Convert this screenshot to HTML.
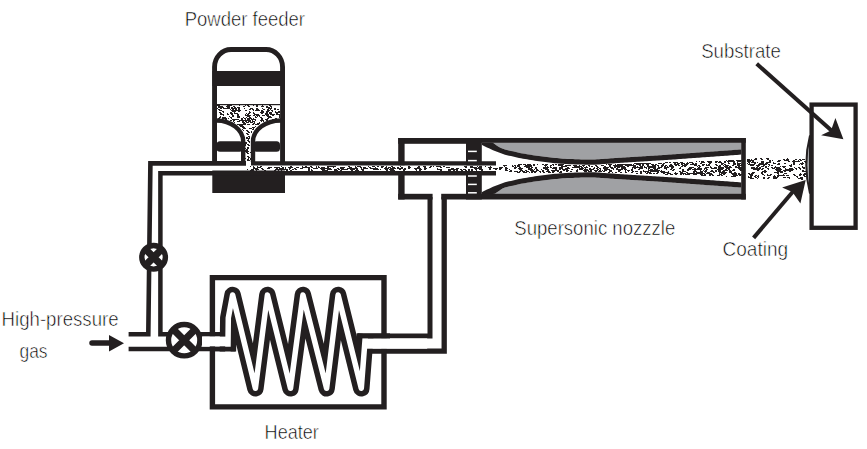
<!DOCTYPE html>
<html><head><meta charset="utf-8"><style>
html,body{margin:0;padding:0;background:#fff;width:867px;height:449px;overflow:hidden}
svg{display:block}
text{font-family:"Liberation Sans",sans-serif;fill:#000;stroke:#fff;stroke-width:0.6}
</style></head><body>
<svg width="867" height="449" viewBox="0 0 867 449">
<rect width="867" height="449" fill="#fff"/>
<g fill="#231f20"><path shape-rendering="crispEdges" d="M217 105h3v1h-3zM227 105h5v1h-5zM239 105h1v1h-1zM245 105h1v1h-1zM247 105h2v1h-2zM253 105h1v1h-1zM256 105h2v1h-2zM262 105h1v1h-1zM269 105h2v1h-2zM218 106h5v1h-5zM226 106h4v1h-4zM233 106h2v1h-2zM243 106h2v1h-2zM248 106h2v1h-2zM256 106h2v1h-2zM261 106h3v1h-3zM266 106h2v1h-2zM270 106h2v1h-2zM218 107h6v1h-6zM227 107h3v1h-3zM231 107h2v1h-2zM234 107h2v1h-2zM237 107h3v1h-3zM266 107h4v1h-4zM271 107h1v1h-1zM217 108h1v1h-1zM220 108h2v1h-2zM223 108h7v1h-7zM231 108h6v1h-6zM238 108h2v1h-2zM244 108h1v1h-1zM250 108h3v1h-3zM256 108h2v1h-2zM262 108h1v1h-1zM268 108h4v1h-4zM274 108h2v1h-2zM218 109h2v1h-2zM230 109h1v1h-1zM232 109h2v1h-2zM235 109h2v1h-2zM238 109h2v1h-2zM249 109h2v1h-2zM252 109h2v1h-2zM256 109h3v1h-3zM263 109h2v1h-2zM267 109h2v1h-2zM270 109h1v1h-1zM274 109h2v1h-2zM277 109h2v1h-2zM219 110h3v1h-3zM231 110h10v1h-10zM245 110h2v1h-2zM253 110h1v1h-1zM255 110h5v1h-5zM261 110h2v1h-2zM267 110h3v1h-3zM271 110h2v1h-2zM222 111h2v1h-2zM232 111h4v1h-4zM238 111h2v1h-2zM249 111h1v1h-1zM261 111h3v1h-3zM266 111h3v1h-3zM272 111h1v1h-1zM275 111h1v1h-1zM278 111h2v1h-2zM219 112h2v1h-2zM223 112h1v1h-1zM230 112h2v1h-2zM234 112h1v1h-1zM249 112h2v1h-2zM253 112h1v1h-1zM260 112h4v1h-4zM266 112h2v1h-2zM269 112h3v1h-3zM275 112h5v1h-5zM220 113h2v1h-2zM227 113h1v1h-1zM230 113h3v1h-3zM234 113h4v1h-4zM246 113h1v1h-1zM248 113h2v1h-2zM253 113h2v1h-2zM261 113h2v1h-2zM265 113h3v1h-3zM269 113h3v1h-3zM276 113h2v1h-2zM220 114h4v1h-4zM227 114h2v1h-2zM231 114h2v1h-2zM237 114h2v1h-2zM245 114h1v1h-1zM247 114h2v1h-2zM254 114h5v1h-5zM265 114h4v1h-4zM270 114h5v1h-5zM276 114h4v1h-4zM223 115h1v1h-1zM232 115h2v1h-2zM237 115h2v1h-2zM245 115h6v1h-6zM253 115h2v1h-2zM256 115h4v1h-4zM262 115h3v1h-3zM266 115h3v1h-3zM272 115h2v1h-2zM279 115h1v1h-1zM220 116h1v1h-1zM229 116h1v1h-1zM232 116h2v1h-2zM237 116h3v1h-3zM247 116h3v1h-3zM255 116h1v1h-1zM257 116h1v1h-1zM259 116h1v1h-1zM267 116h4v1h-4zM279 116h1v1h-1zM219 117h2v1h-2zM222 117h4v1h-4zM230 117h2v1h-2zM237 117h3v1h-3zM243 117h1v1h-1zM246 117h1v1h-1zM249 117h2v1h-2zM255 117h2v1h-2zM260 117h2v1h-2zM268 117h4v1h-4zM279 117h1v1h-1zM218 118h2v1h-2zM222 118h5v1h-5zM228 118h1v1h-1zM231 118h1v1h-1zM241 118h2v1h-2zM244 118h2v1h-2zM247 118h5v1h-5zM253 118h1v1h-1zM261 118h2v1h-2zM267 118h2v1h-2zM275 118h2v1h-2zM217 119h2v1h-2zM225 119h2v1h-2zM232 119h7v1h-7zM241 119h2v1h-2zM245 119h1v1h-1zM247 119h3v1h-3zM251 119h5v1h-5zM261 119h2v1h-2zM265 119h3v1h-3zM272 119h2v1h-2zM275 119h4v1h-4zM218 120h2v1h-2zM225 120h2v1h-2zM230 120h2v1h-2zM233 120h2v1h-2zM239 120h12v1h-12zM252 120h1v1h-1zM255 120h1v1h-1zM260 120h4v1h-4zM266 120h2v1h-2zM272 120h2v1h-2zM278 120h2v1h-2zM233 121h1v1h-1zM237 121h3v1h-3zM242 121h2v1h-2zM245 121h2v1h-2zM248 121h3v1h-3zM252 121h3v1h-3zM261 121h1v1h-1zM263 121h1v1h-1zM234 122h1v1h-1zM242 122h3v1h-3zM246 122h3v1h-3zM250 122h3v1h-3zM254 122h1v1h-1zM259 122h1v1h-1zM243 123h3v1h-3zM253 123h2v1h-2zM257 123h3v1h-3zM237 124h9v1h-9zM247 124h3v1h-3zM252 124h2v1h-2zM255 124h4v1h-4zM239 125h4v1h-4zM240 126h4v1h-4zM255 126h1v1h-1zM242 127h3v1h-3zM252 127h3v1h-3zM243 128h3v1h-3zM249 128h3v1h-3zM253 128h1v1h-1zM242 129h1v1h-1zM252 129h2v1h-2zM243 130h1v1h-1zM246 130h2v1h-2zM247 131h2v1h-2zM251 131h1v1h-1zM248 132h2v1h-2zM251 132h1v1h-1zM246 133h2v1h-2zM247 134h2v1h-2zM248 136h2v1h-2zM246 137h2v1h-2zM249 137h1v1h-1zM246 138h4v1h-4zM248 139h1v1h-1zM247 140h2v1h-2zM248 141h2v1h-2zM245 142h2v1h-2zM249 142h1v1h-1zM245 143h2v1h-2zM245 144h1v1h-1zM247 144h2v1h-2zM245 145h1v1h-1zM248 145h2v1h-2zM247 147h2v1h-2zM245 148h1v1h-1zM247 148h2v1h-2zM246 149h2v1h-2zM245 150h3v1h-3zM245 151h4v1h-4zM246 152h2v1h-2zM250 152h1v1h-1zM247 153h2v1h-2zM247 156h2v1h-2zM248 157h2v1h-2zM245 158h1v1h-1zM248 158h1v1h-1zM250 158h1v1h-1zM247 159h2v1h-2zM250 159h1v1h-1zM247 160h3v1h-3z"/></g><rect x="217" y="104" width="63" height="1.2" fill="#231f20"/><g fill="#231f20"><path shape-rendering="crispEdges" d="M250 166h1v1h-1zM253 166h1v1h-1zM257 166h1v1h-1zM260 166h2v1h-2zM281 166h1v1h-1zM290 166h2v1h-2zM302 166h1v1h-1zM305 166h2v1h-2zM310 166h2v1h-2zM316 166h1v1h-1zM318 166h1v1h-1zM327 166h9v1h-9zM348 166h2v1h-2zM355 166h1v1h-1zM357 166h4v1h-4zM368 166h1v1h-1zM372 166h3v1h-3zM377 166h2v1h-2zM381 166h3v1h-3zM386 166h1v1h-1zM391 166h2v1h-2zM400 166h1v1h-1zM408 166h2v1h-2zM418 166h2v1h-2zM423 166h3v1h-3zM430 166h2v1h-2zM433 166h1v1h-1zM436 166h5v1h-5zM443 166h2v1h-2zM464 166h3v1h-3zM470 166h3v1h-3zM477 166h1v1h-1zM479 166h3v1h-3zM485 166h1v1h-1zM490 166h1v1h-1zM253 167h2v1h-2zM257 167h4v1h-4zM268 167h4v1h-4zM274 167h6v1h-6zM282 167h2v1h-2zM285 167h1v1h-1zM288 167h5v1h-5zM296 167h3v1h-3zM302 167h8v1h-8zM311 167h2v1h-2zM316 167h1v1h-1zM318 167h2v1h-2zM321 167h4v1h-4zM327 167h2v1h-2zM333 167h1v1h-1zM340 167h5v1h-5zM349 167h3v1h-3zM355 167h2v1h-2zM360 167h2v1h-2zM363 167h3v1h-3zM369 167h2v1h-2zM375 167h1v1h-1zM381 167h2v1h-2zM385 167h2v1h-2zM388 167h3v1h-3zM392 167h3v1h-3zM397 167h2v1h-2zM401 167h2v1h-2zM408 167h3v1h-3zM417 167h3v1h-3zM424 167h2v1h-2zM429 167h2v1h-2zM440 167h2v1h-2zM446 167h4v1h-4zM465 167h2v1h-2zM470 167h7v1h-7zM478 167h4v1h-4zM488 167h4v1h-4zM253 168h5v1h-5zM261 168h2v1h-2zM267 168h3v1h-3zM276 168h2v1h-2zM279 168h5v1h-5zM285 168h1v1h-1zM289 168h2v1h-2zM294 168h2v1h-2zM300 168h3v1h-3zM308 168h2v1h-2zM313 168h5v1h-5zM320 168h11v1h-11zM337 168h2v1h-2zM340 168h4v1h-4zM347 168h11v1h-11zM361 168h1v1h-1zM363 168h5v1h-5zM370 168h8v1h-8zM384 168h5v1h-5zM390 168h6v1h-6zM397 168h6v1h-6zM404 168h2v1h-2zM408 168h2v1h-2zM414 168h7v1h-7zM424 168h3v1h-3zM437 168h1v1h-1zM451 168h3v1h-3zM456 168h3v1h-3zM474 168h8v1h-8zM489 168h2v1h-2zM493 168h5v1h-5zM247 169h1v1h-1zM251 169h3v1h-3zM255 169h4v1h-4zM262 169h2v1h-2zM275 169h13v1h-13zM289 169h1v1h-1zM292 169h2v1h-2zM295 169h2v1h-2zM308 169h2v1h-2zM311 169h1v1h-1zM321 169h4v1h-4zM327 169h5v1h-5zM334 169h3v1h-3zM338 169h2v1h-2zM341 169h7v1h-7zM350 169h5v1h-5zM356 169h2v1h-2zM361 169h3v1h-3zM373 169h6v1h-6zM380 169h1v1h-1zM385 169h3v1h-3zM389 169h5v1h-5zM399 169h2v1h-2zM403 169h3v1h-3zM415 169h2v1h-2zM419 169h3v1h-3zM424 169h2v1h-2zM437 169h5v1h-5zM448 169h10v1h-10zM460 169h2v1h-2zM463 169h3v1h-3zM468 169h2v1h-2zM471 169h2v1h-2zM475 169h2v1h-2zM479 169h4v1h-4zM489 169h2v1h-2zM495 169h2v1h-2zM250 170h4v1h-4zM256 170h1v1h-1zM264 170h2v1h-2zM274 170h2v1h-2zM278 170h1v1h-1zM281 170h1v1h-1zM286 170h2v1h-2zM290 170h2v1h-2zM308 170h2v1h-2zM311 170h2v1h-2zM322 170h6v1h-6zM334 170h4v1h-4zM340 170h2v1h-2zM351 170h2v1h-2zM355 170h4v1h-4zM362 170h2v1h-2zM386 170h2v1h-2zM390 170h5v1h-5zM403 170h2v1h-2zM416 170h1v1h-1zM419 170h2v1h-2zM440 170h2v1h-2zM448 170h3v1h-3zM453 170h2v1h-2zM456 170h2v1h-2zM461 170h2v1h-2zM465 170h2v1h-2zM468 170h2v1h-2zM471 170h2v1h-2zM476 170h1v1h-1zM481 170h2v1h-2zM265 171h1v1h-1zM291 171h1v1h-1zM356 171h1v1h-1zM358 171h1v1h-1z"/></g><path d="M214.55 162 V67 A16.5 17.5 0 0 1 231.05 49.55 H266.05 A16.5 17.5 0 0 1 282.55 67 V162" fill="none" stroke="#231f20" stroke-width="4.9"/><path d="M212.5 71 H285 V86 H212.5 Z" fill="#231f20"/><path d="M216 120.5 A26.8 21 0 0 1 243.2 141.5 V162" fill="none" stroke="#231f20" stroke-width="4.4"/><path d="M281 120.5 A27.8 21 0 0 0 253 141.5 V162" fill="none" stroke="#231f20" stroke-width="4.4"/><rect x="216.5" y="141.3" width="26.5" height="10.4" rx="3.5" fill="#231f20"/><rect x="253" y="141.3" width="27" height="10.4" rx="3.5" fill="#231f20"/><rect x="212.3" y="170.5" width="72.7" height="22.5" fill="#231f20"/><path d="M128.6 334.2 H148.3 L150.4 163.4 H246" fill="none" stroke="#231f20" stroke-width="4.6"/><path d="M251 163.3 H496" fill="none" stroke="#231f20" stroke-width="4.2"/><path d="M496 173.2 H160.4 V334.3 H224.5" fill="none" stroke="#231f20" stroke-width="4.5"/><path d="M128.6 349 H235.3" fill="none" stroke="#231f20" stroke-width="4.5"/><path d="M356.5 335.9 H430 V197" fill="none" stroke="#231f20" stroke-width="5"/><path d="M370.5 351.2 H444.2 V197" fill="none" stroke="#231f20" stroke-width="5.3"/><circle cx="153.6" cy="257.3" r="11.8" fill="#fff" stroke="#231f20" stroke-width="5.4"/><path d="M144.75 248.45000000000002 L162.45 266.15000000000003 M162.45 248.45000000000002 L144.75 266.15000000000003" stroke="#231f20" stroke-width="7.2"/><circle cx="184.2" cy="340.2" r="15.7" fill="#fff" stroke="#231f20" stroke-width="5.4"/><path d="M172.42499999999998 328.425 L195.975 351.97499999999997 M195.975 328.425 L172.42499999999998 351.97499999999997" stroke="#231f20" stroke-width="7.2"/><path d="M212.4 336.6 V277.6 H384 V338.4 M384 348.5 V406.9 H212.4 V345.8" fill="none" stroke="#231f20" stroke-width="5.4"/><path d="M227.9 351.5 L228.3 318 L232.6 295 L255.4 388.3 L267.4 295 L290.5 388.3 L302.9 295 L326.6 388.3 L338.1 295 L361.3 388.3 L365.5 334" fill="none" stroke="#231f20" stroke-width="16.5" stroke-linejoin="round"/><path d="M227.9 351.5 L228.3 318 L232.6 295 L255.4 388.3 L267.4 295 L290.5 388.3 L302.9 295 L326.6 388.3 L338.1 295 L361.3 388.3 L365.5 334" fill="none" stroke="#fff" stroke-width="5.5" stroke-linejoin="round"/><rect x="202" y="336.6" width="26" height="9.8" fill="#fff"/><path d="M210 349 H235.3" stroke="#231f20" stroke-width="4.5"/><rect x="364" y="338.4" width="63.2" height="10.3" fill="#fff"/><path d="M358 335.9 H390" stroke="#231f20" stroke-width="5"/><polygon points="481.8,142.5 741.3,142.5 741.3,149.40 741.0,149.42 739.0,149.57 737.0,149.71 735.0,149.85 733.0,150.00 731.0,150.14 729.0,150.29 727.0,150.43 725.0,150.57 723.0,150.72 721.0,150.86 719.0,151.01 717.0,151.15 715.0,151.30 713.0,151.44 711.0,151.58 709.0,151.73 707.0,151.87 705.0,152.02 703.0,152.16 701.0,152.30 699.0,152.45 697.0,152.59 695.0,152.74 693.0,152.88 691.0,153.03 689.0,153.17 687.0,153.31 685.0,153.46 683.0,153.60 681.0,153.75 679.0,153.89 677.0,154.03 675.0,154.18 673.0,154.32 671.0,154.47 669.0,154.61 667.0,154.76 665.0,154.90 663.0,155.02 661.0,155.15 659.0,155.27 657.0,155.40 655.0,155.52 653.0,155.65 651.0,155.77 649.0,155.90 647.0,156.02 645.0,156.14 643.0,156.27 641.0,156.39 639.0,156.52 637.0,156.64 635.0,156.77 633.0,156.89 631.0,157.02 629.0,157.14 627.0,157.26 625.0,157.39 623.0,157.51 621.0,157.64 619.0,157.77 617.0,157.92 615.0,158.06 613.0,158.20 611.0,158.35 609.0,158.49 607.0,158.64 605.0,158.78 603.0,158.92 601.0,159.07 599.0,159.21 597.0,159.36 595.0,159.50 593.0,159.49 591.0,159.47 589.0,159.46 587.0,159.45 585.0,159.43 583.0,159.42 581.0,159.41 579.0,159.36 577.0,159.28 575.0,159.20 573.0,159.12 571.0,159.04 569.0,158.96 567.0,158.88 565.0,158.80 563.0,158.63 561.0,158.45 559.0,158.28 557.0,158.11 555.0,157.93 553.0,157.76 551.0,157.59 549.0,157.37 547.0,157.10 545.0,156.83 543.0,156.57 541.0,156.30 539.0,156.03 537.0,155.77 535.0,155.50 533.0,155.17 531.0,154.83 529.0,154.50 527.0,154.17 525.0,153.83 523.0,153.50 521.0,153.17 519.0,152.77 517.0,152.30 515.0,151.83 513.0,151.37 511.0,150.90 509.0,150.43 507.0,149.97 505.0,149.50 503.0,148.78 501.0,148.06 499.0,147.01 497.0,145.63 495.0,144.25 493.0,142.68 491.0,142.50 489.0,142.50 487.0,142.50 485.0,142.50 483.0,142.50 481.8,142.50" fill="#a0a1a4"/><polygon points="481.8,194.10 483.0,194.10 485.0,194.10 487.0,194.10 489.0,194.10 491.0,194.10 493.0,194.10 495.0,193.74 497.0,192.36 499.0,190.98 501.0,189.60 503.0,188.22 505.0,187.50 507.0,187.03 509.0,186.57 511.0,186.10 513.0,185.63 515.0,185.17 517.0,184.70 519.0,184.23 521.0,183.83 523.0,183.50 525.0,183.17 527.0,182.83 529.0,182.50 531.0,182.17 533.0,181.83 535.0,181.50 537.0,181.23 539.0,180.97 541.0,180.70 543.0,180.43 545.0,180.17 547.0,179.90 549.0,179.63 551.0,179.41 553.0,179.24 555.0,179.07 557.0,178.89 559.0,178.72 561.0,178.55 563.0,178.37 565.0,178.20 567.0,178.12 569.0,178.04 571.0,177.96 573.0,177.88 575.0,177.80 577.0,177.72 579.0,177.64 581.0,177.59 583.0,177.58 585.0,177.57 587.0,177.55 589.0,177.54 591.0,177.53 593.0,177.51 595.0,177.50 597.0,177.64 599.0,177.79 601.0,177.93 603.0,178.08 605.0,178.22 607.0,178.36 609.0,178.51 611.0,178.65 613.0,178.80 615.0,178.94 617.0,179.08 619.0,179.23 621.0,179.36 623.0,179.49 625.0,179.61 627.0,179.74 629.0,179.86 631.0,179.98 633.0,180.11 635.0,180.23 637.0,180.36 639.0,180.48 641.0,180.61 643.0,180.73 645.0,180.86 647.0,180.98 649.0,181.10 651.0,181.23 653.0,181.35 655.0,181.48 657.0,181.60 659.0,181.73 661.0,181.85 663.0,181.98 665.0,182.10 667.0,182.24 669.0,182.39 671.0,182.53 673.0,182.68 675.0,182.82 677.0,182.97 679.0,183.11 681.0,183.25 683.0,183.40 685.0,183.54 687.0,183.69 689.0,183.83 691.0,183.97 693.0,184.12 695.0,184.26 697.0,184.41 699.0,184.55 701.0,184.70 703.0,184.84 705.0,184.98 707.0,185.13 709.0,185.27 711.0,185.42 713.0,185.56 715.0,185.70 717.0,185.85 719.0,185.99 721.0,186.14 723.0,186.28 725.0,186.43 727.0,186.57 729.0,186.71 731.0,186.86 733.0,187.00 735.0,187.15 737.0,187.29 739.0,187.43 741.0,187.58 741.3,187.60 741.3,194.10000000000002 481.8,194.10000000000002" fill="#a0a1a4"/><polygon points="481.8,142.50 483.0,142.50 485.0,142.50 487.0,142.50 489.0,142.50 491.0,142.50 493.0,142.68 495.0,144.25 497.0,145.63 499.0,147.01 501.0,148.06 503.0,148.78 505.0,149.50 507.0,149.97 509.0,150.43 511.0,150.90 513.0,151.37 515.0,151.83 517.0,152.30 519.0,152.77 521.0,153.17 523.0,153.50 525.0,153.83 527.0,154.17 529.0,154.50 531.0,154.83 533.0,155.17 535.0,155.50 537.0,155.77 539.0,156.03 541.0,156.30 543.0,156.57 545.0,156.83 547.0,157.10 549.0,157.37 551.0,157.59 553.0,157.76 555.0,157.93 557.0,158.11 559.0,158.28 561.0,158.45 563.0,158.63 565.0,158.80 567.0,158.88 569.0,158.96 571.0,159.04 573.0,159.12 575.0,159.20 577.0,159.28 579.0,159.36 581.0,159.41 583.0,159.42 585.0,159.43 587.0,159.45 589.0,159.46 591.0,159.47 593.0,159.49 595.0,159.50 597.0,159.36 599.0,159.21 601.0,159.07 603.0,158.92 605.0,158.78 607.0,158.64 609.0,158.49 611.0,158.35 613.0,158.20 615.0,158.06 617.0,157.92 619.0,157.77 621.0,157.64 623.0,157.51 625.0,157.39 627.0,157.26 629.0,157.14 631.0,157.02 633.0,156.89 635.0,156.77 637.0,156.64 639.0,156.52 641.0,156.39 643.0,156.27 645.0,156.14 647.0,156.02 649.0,155.90 651.0,155.77 653.0,155.65 655.0,155.52 657.0,155.40 659.0,155.27 661.0,155.15 663.0,155.02 665.0,154.90 667.0,154.76 669.0,154.61 671.0,154.47 673.0,154.32 675.0,154.18 677.0,154.03 679.0,153.89 681.0,153.75 683.0,153.60 685.0,153.46 687.0,153.31 689.0,153.17 691.0,153.03 693.0,152.88 695.0,152.74 697.0,152.59 699.0,152.45 701.0,152.30 703.0,152.16 705.0,152.02 707.0,151.87 709.0,151.73 711.0,151.58 713.0,151.44 715.0,151.30 717.0,151.15 719.0,151.01 721.0,150.86 723.0,150.72 725.0,150.57 727.0,150.43 729.0,150.29 731.0,150.14 733.0,150.00 735.0,149.85 737.0,149.71 739.0,149.57 741.0,149.42 741.3,149.40 741.3,154.60 741.0,154.62 739.0,154.77 737.0,154.91 735.0,155.05 733.0,155.20 731.0,155.34 729.0,155.49 727.0,155.63 725.0,155.77 723.0,155.92 721.0,156.06 719.0,156.21 717.0,156.35 715.0,156.50 713.0,156.64 711.0,156.78 709.0,156.93 707.0,157.07 705.0,157.22 703.0,157.36 701.0,157.50 699.0,157.65 697.0,157.79 695.0,157.94 693.0,158.08 691.0,158.23 689.0,158.37 687.0,158.51 685.0,158.66 683.0,158.80 681.0,158.95 679.0,159.09 677.0,159.23 675.0,159.38 673.0,159.52 671.0,159.67 669.0,159.81 667.0,159.96 665.0,160.10 663.0,160.22 661.0,160.35 659.0,160.47 657.0,160.60 655.0,160.72 653.0,160.85 651.0,160.97 649.0,161.10 647.0,161.22 645.0,161.34 643.0,161.47 641.0,161.59 639.0,161.72 637.0,161.84 635.0,161.97 633.0,162.09 631.0,162.22 629.0,162.34 627.0,162.46 625.0,162.59 623.0,162.71 621.0,162.84 619.0,162.97 617.0,163.12 615.0,163.26 613.0,163.40 611.0,163.55 609.0,163.69 607.0,163.84 605.0,163.98 603.0,164.12 601.0,164.27 599.0,164.41 597.0,164.56 595.0,164.70 593.0,164.69 591.0,164.67 589.0,164.66 587.0,164.65 585.0,164.63 583.0,164.62 581.0,164.61 579.0,164.56 577.0,164.48 575.0,164.40 573.0,164.32 571.0,164.24 569.0,164.16 567.0,164.08 565.0,164.00 563.0,163.83 561.0,163.65 559.0,163.48 557.0,163.31 555.0,163.13 553.0,162.96 551.0,162.79 549.0,162.57 547.0,162.30 545.0,162.03 543.0,161.77 541.0,161.50 539.0,161.23 537.0,160.97 535.0,160.70 533.0,160.37 531.0,160.03 529.0,159.70 527.0,159.37 525.0,159.03 523.0,158.70 521.0,158.37 519.0,157.97 517.0,157.50 515.0,157.03 513.0,156.57 511.0,156.10 509.0,155.63 507.0,155.17 505.0,154.70 503.0,153.98 501.0,153.26 499.0,152.54 497.0,151.82 495.0,151.10 493.0,150.19 491.0,149.27 489.0,148.36 487.0,147.40 485.0,146.40 483.0,145.40 481.8,144.80" fill="#231f20"/><polygon points="481.8,192.20 483.0,191.60 485.0,190.60 487.0,189.60 489.0,188.64 491.0,187.73 493.0,186.81 495.0,185.90 497.0,185.18 499.0,184.46 501.0,183.74 503.0,183.02 505.0,182.30 507.0,181.83 509.0,181.37 511.0,180.90 513.0,180.43 515.0,179.97 517.0,179.50 519.0,179.03 521.0,178.63 523.0,178.30 525.0,177.97 527.0,177.63 529.0,177.30 531.0,176.97 533.0,176.63 535.0,176.30 537.0,176.03 539.0,175.77 541.0,175.50 543.0,175.23 545.0,174.97 547.0,174.70 549.0,174.43 551.0,174.21 553.0,174.04 555.0,173.87 557.0,173.69 559.0,173.52 561.0,173.35 563.0,173.17 565.0,173.00 567.0,172.92 569.0,172.84 571.0,172.76 573.0,172.68 575.0,172.60 577.0,172.52 579.0,172.44 581.0,172.39 583.0,172.38 585.0,172.37 587.0,172.35 589.0,172.34 591.0,172.33 593.0,172.31 595.0,172.30 597.0,172.44 599.0,172.59 601.0,172.73 603.0,172.88 605.0,173.02 607.0,173.16 609.0,173.31 611.0,173.45 613.0,173.60 615.0,173.74 617.0,173.88 619.0,174.03 621.0,174.16 623.0,174.29 625.0,174.41 627.0,174.54 629.0,174.66 631.0,174.78 633.0,174.91 635.0,175.03 637.0,175.16 639.0,175.28 641.0,175.41 643.0,175.53 645.0,175.66 647.0,175.78 649.0,175.90 651.0,176.03 653.0,176.15 655.0,176.28 657.0,176.40 659.0,176.53 661.0,176.65 663.0,176.78 665.0,176.90 667.0,177.04 669.0,177.19 671.0,177.33 673.0,177.48 675.0,177.62 677.0,177.77 679.0,177.91 681.0,178.05 683.0,178.20 685.0,178.34 687.0,178.49 689.0,178.63 691.0,178.77 693.0,178.92 695.0,179.06 697.0,179.21 699.0,179.35 701.0,179.50 703.0,179.64 705.0,179.78 707.0,179.93 709.0,180.07 711.0,180.22 713.0,180.36 715.0,180.50 717.0,180.65 719.0,180.79 721.0,180.94 723.0,181.08 725.0,181.23 727.0,181.37 729.0,181.51 731.0,181.66 733.0,181.80 735.0,181.95 737.0,182.09 739.0,182.23 741.0,182.38 741.3,182.40 741.3,187.60 741.0,187.58 739.0,187.43 737.0,187.29 735.0,187.15 733.0,187.00 731.0,186.86 729.0,186.71 727.0,186.57 725.0,186.43 723.0,186.28 721.0,186.14 719.0,185.99 717.0,185.85 715.0,185.70 713.0,185.56 711.0,185.42 709.0,185.27 707.0,185.13 705.0,184.98 703.0,184.84 701.0,184.70 699.0,184.55 697.0,184.41 695.0,184.26 693.0,184.12 691.0,183.97 689.0,183.83 687.0,183.69 685.0,183.54 683.0,183.40 681.0,183.25 679.0,183.11 677.0,182.97 675.0,182.82 673.0,182.68 671.0,182.53 669.0,182.39 667.0,182.24 665.0,182.10 663.0,181.98 661.0,181.85 659.0,181.73 657.0,181.60 655.0,181.48 653.0,181.35 651.0,181.23 649.0,181.10 647.0,180.98 645.0,180.86 643.0,180.73 641.0,180.61 639.0,180.48 637.0,180.36 635.0,180.23 633.0,180.11 631.0,179.98 629.0,179.86 627.0,179.74 625.0,179.61 623.0,179.49 621.0,179.36 619.0,179.23 617.0,179.08 615.0,178.94 613.0,178.80 611.0,178.65 609.0,178.51 607.0,178.36 605.0,178.22 603.0,178.08 601.0,177.93 599.0,177.79 597.0,177.64 595.0,177.50 593.0,177.51 591.0,177.53 589.0,177.54 587.0,177.55 585.0,177.57 583.0,177.58 581.0,177.59 579.0,177.64 577.0,177.72 575.0,177.80 573.0,177.88 571.0,177.96 569.0,178.04 567.0,178.12 565.0,178.20 563.0,178.37 561.0,178.55 559.0,178.72 557.0,178.89 555.0,179.07 553.0,179.24 551.0,179.41 549.0,179.63 547.0,179.90 545.0,180.17 543.0,180.43 541.0,180.70 539.0,180.97 537.0,181.23 535.0,181.50 533.0,181.83 531.0,182.17 529.0,182.50 527.0,182.83 525.0,183.17 523.0,183.50 521.0,183.83 519.0,184.23 517.0,184.70 515.0,185.17 513.0,185.63 511.0,186.10 509.0,186.57 507.0,187.03 505.0,187.50 503.0,188.22 501.0,189.60 499.0,190.98 497.0,192.36 495.0,193.74 493.0,194.10 491.0,194.10 489.0,194.10 487.0,194.10 485.0,194.10 483.0,194.10 481.8,194.10" fill="#231f20"/><g fill="#231f20"><path shape-rendering="crispEdges" d="M726 160h1v1h-1zM728 160h6v1h-6zM736 160h7v1h-7zM696 161h1v1h-1zM699 161h1v1h-1zM701 161h3v1h-3zM707 161h5v1h-5zM715 161h3v1h-3zM719 161h2v1h-2zM724 161h2v1h-2zM727 161h8v1h-8zM737 161h4v1h-4zM742 161h1v1h-1zM665 162h3v1h-3zM669 162h2v1h-2zM673 162h5v1h-5zM680 162h3v1h-3zM687 162h1v1h-1zM689 162h4v1h-4zM701 162h4v1h-4zM708 162h4v1h-4zM715 162h2v1h-2zM718 162h4v1h-4zM724 162h2v1h-2zM728 162h1v1h-1zM733 162h2v1h-2zM737 162h1v1h-1zM634 163h17v1h-17zM658 163h4v1h-4zM663 163h2v1h-2zM674 163h2v1h-2zM677 163h3v1h-3zM681 163h4v1h-4zM686 163h3v1h-3zM692 163h2v1h-2zM695 163h2v1h-2zM700 163h2v1h-2zM709 163h2v1h-2zM721 163h3v1h-3zM728 163h2v1h-2zM733 163h3v1h-3zM737 163h4v1h-4zM518 164h4v1h-4zM523 164h3v1h-3zM527 164h4v1h-4zM533 164h2v1h-2zM537 164h1v1h-1zM542 164h2v1h-2zM545 164h3v1h-3zM552 164h2v1h-2zM555 164h2v1h-2zM558 164h6v1h-6zM606 164h1v1h-1zM608 164h4v1h-4zM615 164h1v1h-1zM617 164h15v1h-15zM633 164h1v1h-1zM636 164h5v1h-5zM642 164h2v1h-2zM646 164h3v1h-3zM651 164h3v1h-3zM655 164h2v1h-2zM662 164h2v1h-2zM670 164h2v1h-2zM674 164h5v1h-5zM681 164h2v1h-2zM684 164h4v1h-4zM690 164h7v1h-7zM702 164h3v1h-3zM706 164h1v1h-1zM708 164h2v1h-2zM715 164h2v1h-2zM721 164h2v1h-2zM724 164h2v1h-2zM733 164h3v1h-3zM737 164h3v1h-3zM741 164h2v1h-2zM503 165h4v1h-4zM512 165h1v1h-1zM514 165h2v1h-2zM517 165h3v1h-3zM525 165h7v1h-7zM533 165h2v1h-2zM544 165h3v1h-3zM550 165h2v1h-2zM553 165h1v1h-1zM558 165h5v1h-5zM565 165h6v1h-6zM573 165h4v1h-4zM579 165h1v1h-1zM582 165h3v1h-3zM588 165h2v1h-2zM595 165h2v1h-2zM601 165h3v1h-3zM609 165h2v1h-2zM613 165h10v1h-10zM625 165h11v1h-11zM639 165h2v1h-2zM642 165h2v1h-2zM647 165h2v1h-2zM652 165h4v1h-4zM657 165h2v1h-2zM661 165h3v1h-3zM665 165h2v1h-2zM669 165h4v1h-4zM675 165h2v1h-2zM678 165h2v1h-2zM682 165h5v1h-5zM694 165h3v1h-3zM698 165h2v1h-2zM702 165h2v1h-2zM706 165h4v1h-4zM716 165h2v1h-2zM719 165h2v1h-2zM723 165h1v1h-1zM725 165h4v1h-4zM732 165h2v1h-2zM737 165h5v1h-5zM504 166h1v1h-1zM512 166h2v1h-2zM515 166h1v1h-1zM517 166h3v1h-3zM524 166h8v1h-8zM545 166h1v1h-1zM547 166h1v1h-1zM550 166h1v1h-1zM561 166h6v1h-6zM574 166h8v1h-8zM583 166h1v1h-1zM586 166h1v1h-1zM589 166h1v1h-1zM591 166h2v1h-2zM596 166h2v1h-2zM604 166h2v1h-2zM609 166h2v1h-2zM614 166h11v1h-11zM627 166h2v1h-2zM633 166h3v1h-3zM637 166h1v1h-1zM640 166h3v1h-3zM644 166h1v1h-1zM647 166h9v1h-9zM658 166h1v1h-1zM661 166h2v1h-2zM664 166h2v1h-2zM667 166h1v1h-1zM669 166h5v1h-5zM681 166h2v1h-2zM684 166h2v1h-2zM697 166h1v1h-1zM699 166h2v1h-2zM710 166h1v1h-1zM718 166h3v1h-3zM724 166h4v1h-4zM729 166h2v1h-2zM735 166h2v1h-2zM738 166h2v1h-2zM499 167h4v1h-4zM505 167h2v1h-2zM514 167h3v1h-3zM519 167h2v1h-2zM526 167h4v1h-4zM531 167h2v1h-2zM535 167h2v1h-2zM543 167h6v1h-6zM550 167h2v1h-2zM553 167h4v1h-4zM559 167h4v1h-4zM567 167h2v1h-2zM572 167h8v1h-8zM581 167h2v1h-2zM584 167h4v1h-4zM594 167h1v1h-1zM597 167h2v1h-2zM603 167h6v1h-6zM610 167h3v1h-3zM614 167h2v1h-2zM617 167h3v1h-3zM621 167h5v1h-5zM632 167h11v1h-11zM644 167h3v1h-3zM648 167h8v1h-8zM658 167h4v1h-4zM664 167h5v1h-5zM671 167h3v1h-3zM680 167h1v1h-1zM689 167h5v1h-5zM698 167h2v1h-2zM705 167h4v1h-4zM710 167h2v1h-2zM714 167h3v1h-3zM718 167h6v1h-6zM725 167h7v1h-7zM735 167h8v1h-8zM499 168h3v1h-3zM505 168h3v1h-3zM514 168h2v1h-2zM518 168h5v1h-5zM528 168h4v1h-4zM535 168h2v1h-2zM543 168h5v1h-5zM552 168h5v1h-5zM559 168h4v1h-4zM565 168h5v1h-5zM579 168h5v1h-5zM585 168h1v1h-1zM589 168h2v1h-2zM593 168h2v1h-2zM596 168h2v1h-2zM599 168h2v1h-2zM603 168h5v1h-5zM611 168h3v1h-3zM616 168h2v1h-2zM621 168h5v1h-5zM632 168h1v1h-1zM634 168h2v1h-2zM639 168h4v1h-4zM646 168h1v1h-1zM648 168h2v1h-2zM653 168h3v1h-3zM657 168h3v1h-3zM664 168h3v1h-3zM671 168h2v1h-2zM679 168h2v1h-2zM688 168h4v1h-4zM694 168h2v1h-2zM697 168h5v1h-5zM704 168h3v1h-3zM711 168h6v1h-6zM718 168h6v1h-6zM726 168h4v1h-4zM738 168h4v1h-4zM499 169h2v1h-2zM505 169h2v1h-2zM509 169h1v1h-1zM519 169h3v1h-3zM528 169h5v1h-5zM534 169h1v1h-1zM536 169h2v1h-2zM541 169h1v1h-1zM545 169h4v1h-4zM555 169h2v1h-2zM559 169h2v1h-2zM562 169h6v1h-6zM571 169h2v1h-2zM577 169h1v1h-1zM579 169h4v1h-4zM584 169h4v1h-4zM589 169h5v1h-5zM597 169h2v1h-2zM600 169h1v1h-1zM604 169h6v1h-6zM613 169h1v1h-1zM616 169h7v1h-7zM624 169h3v1h-3zM631 169h2v1h-2zM638 169h2v1h-2zM648 169h1v1h-1zM650 169h3v1h-3zM654 169h4v1h-4zM666 169h1v1h-1zM670 169h2v1h-2zM673 169h2v1h-2zM682 169h2v1h-2zM687 169h4v1h-4zM692 169h10v1h-10zM704 169h1v1h-1zM706 169h2v1h-2zM717 169h6v1h-6zM725 169h2v1h-2zM728 169h2v1h-2zM733 169h2v1h-2zM739 169h3v1h-3zM505 170h3v1h-3zM510 170h2v1h-2zM520 170h3v1h-3zM525 170h2v1h-2zM530 170h4v1h-4zM536 170h3v1h-3zM542 170h2v1h-2zM547 170h2v1h-2zM551 170h8v1h-8zM563 170h2v1h-2zM566 170h3v1h-3zM576 170h2v1h-2zM583 170h6v1h-6zM590 170h2v1h-2zM594 170h4v1h-4zM599 170h2v1h-2zM602 170h1v1h-1zM604 170h3v1h-3zM609 170h3v1h-3zM618 170h3v1h-3zM625 170h1v1h-1zM627 170h3v1h-3zM631 170h2v1h-2zM643 170h1v1h-1zM648 170h12v1h-12zM661 170h1v1h-1zM672 170h2v1h-2zM682 170h2v1h-2zM687 170h2v1h-2zM694 170h2v1h-2zM700 170h1v1h-1zM703 170h1v1h-1zM705 170h2v1h-2zM711 170h2v1h-2zM715 170h2v1h-2zM718 170h3v1h-3zM723 170h5v1h-5zM729 170h2v1h-2zM732 170h3v1h-3zM740 170h3v1h-3zM509 171h3v1h-3zM514 171h4v1h-4zM519 171h2v1h-2zM522 171h3v1h-3zM526 171h3v1h-3zM531 171h6v1h-6zM539 171h2v1h-2zM542 171h2v1h-2zM546 171h4v1h-4zM552 171h3v1h-3zM557 171h2v1h-2zM560 171h2v1h-2zM566 171h2v1h-2zM570 171h2v1h-2zM576 171h2v1h-2zM584 171h3v1h-3zM588 171h4v1h-4zM595 171h2v1h-2zM598 171h4v1h-4zM603 171h2v1h-2zM609 171h3v1h-3zM618 171h2v1h-2zM625 171h1v1h-1zM628 171h1v1h-1zM632 171h2v1h-2zM635 171h3v1h-3zM640 171h2v1h-2zM643 171h6v1h-6zM650 171h9v1h-9zM660 171h5v1h-5zM668 171h1v1h-1zM679 171h2v1h-2zM682 171h4v1h-4zM693 171h4v1h-4zM700 171h3v1h-3zM704 171h3v1h-3zM710 171h4v1h-4zM715 171h2v1h-2zM718 171h3v1h-3zM722 171h3v1h-3zM729 171h3v1h-3zM517 172h3v1h-3zM523 172h4v1h-4zM529 172h1v1h-1zM531 172h2v1h-2zM534 172h2v1h-2zM540 172h1v1h-1zM543 172h2v1h-2zM548 172h3v1h-3zM552 172h2v1h-2zM559 172h3v1h-3zM608 172h2v1h-2zM612 172h1v1h-1zM615 172h2v1h-2zM620 172h2v1h-2zM625 172h2v1h-2zM631 172h2v1h-2zM640 172h2v1h-2zM645 172h1v1h-1zM647 172h4v1h-4zM657 172h2v1h-2zM661 172h8v1h-8zM675 172h1v1h-1zM680 172h3v1h-3zM686 172h2v1h-2zM693 172h2v1h-2zM696 172h7v1h-7zM705 172h1v1h-1zM707 172h3v1h-3zM713 172h2v1h-2zM719 172h8v1h-8zM729 172h3v1h-3zM734 172h2v1h-2zM636 173h2v1h-2zM640 173h2v1h-2zM646 173h2v1h-2zM649 173h3v1h-3zM653 173h2v1h-2zM656 173h2v1h-2zM663 173h2v1h-2zM667 173h4v1h-4zM674 173h4v1h-4zM680 173h6v1h-6zM687 173h18v1h-18zM706 173h6v1h-6zM719 173h1v1h-1zM721 173h5v1h-5zM731 173h6v1h-6zM738 173h2v1h-2zM665 174h3v1h-3zM670 174h3v1h-3zM675 174h2v1h-2zM680 174h2v1h-2zM683 174h1v1h-1zM685 174h5v1h-5zM693 174h4v1h-4zM700 174h3v1h-3zM704 174h2v1h-2zM709 174h4v1h-4zM719 174h3v1h-3zM723 174h2v1h-2zM732 174h5v1h-5zM738 174h4v1h-4zM701 175h5v1h-5zM709 175h2v1h-2zM712 175h2v1h-2zM717 175h3v1h-3zM721 175h2v1h-2zM733 175h5v1h-5zM739 175h2v1h-2zM726 176h1v1h-1zM731 176h5v1h-5z"/></g><rect x="398.2" y="138" width="68" height="5.8" fill="#231f20"/><rect x="466" y="138" width="279.8" height="4.8" fill="#231f20"/><rect x="398.2" y="193.8" width="34.4" height="5.7" fill="#231f20"/><rect x="441.2" y="193.8" width="304.6" height="5.7" fill="#231f20"/><rect x="398.2" y="138" width="6.4" height="27.3" fill="#231f20"/><rect x="398.2" y="171.3" width="6.4" height="28.2" fill="#231f20"/><rect x="741.2" y="138" width="4.6" height="61.5" fill="#231f20"/><rect x="466" y="138" width="15.8" height="27.3" fill="#231f20"/><rect x="466" y="171.3" width="15.8" height="28.2" fill="#231f20"/><rect x="468" y="150.65" width="8.8" height="1.5" fill="#fff"/><rect x="468" y="159.85" width="8.8" height="1.5" fill="#fff"/><rect x="468" y="175.25" width="8.8" height="1.5" fill="#fff"/><rect x="468" y="183.65" width="8.8" height="1.5" fill="#fff"/><rect x="468" y="192.05" width="8.8" height="1.5" fill="#fff"/><g fill="#231f20"><path shape-rendering="crispEdges" d="M755 158h2v1h-2zM760 158h2v1h-2zM766 158h3v1h-3zM787 158h1v1h-1zM747 159h3v1h-3zM751 159h1v1h-1zM754 159h3v1h-3zM761 159h2v1h-2zM767 159h2v1h-2zM783 159h2v1h-2zM786 159h3v1h-3zM795 159h2v1h-2zM799 159h2v1h-2zM802 159h3v1h-3zM747 160h7v1h-7zM769 160h2v1h-2zM772 160h1v1h-1zM778 160h3v1h-3zM784 160h5v1h-5zM793 160h2v1h-2zM798 160h1v1h-1zM800 160h2v1h-2zM747 161h4v1h-4zM752 161h2v1h-2zM761 161h3v1h-3zM769 161h2v1h-2zM777 161h3v1h-3zM788 161h2v1h-2zM792 161h8v1h-8zM804 161h2v1h-2zM748 162h2v1h-2zM751 162h5v1h-5zM757 162h1v1h-1zM761 162h3v1h-3zM766 162h5v1h-5zM773 162h1v1h-1zM793 162h2v1h-2zM802 162h1v1h-1zM805 162h2v1h-2zM747 163h1v1h-1zM749 163h1v1h-1zM754 163h2v1h-2zM759 163h5v1h-5zM765 163h3v1h-3zM773 163h3v1h-3zM778 163h2v1h-2zM784 163h2v1h-2zM793 163h2v1h-2zM800 163h4v1h-4zM748 164h7v1h-7zM758 164h9v1h-9zM768 164h2v1h-2zM777 164h3v1h-3zM791 164h1v1h-1zM793 164h2v1h-2zM799 164h1v1h-1zM801 164h2v1h-2zM750 165h4v1h-4zM756 165h4v1h-4zM763 165h2v1h-2zM769 165h1v1h-1zM771 165h2v1h-2zM789 165h3v1h-3zM757 166h2v1h-2zM761 166h3v1h-3zM765 166h2v1h-2zM768 166h1v1h-1zM775 166h1v1h-1zM780 166h1v1h-1zM782 166h4v1h-4zM790 166h2v1h-2zM802 166h1v1h-1zM751 167h4v1h-4zM756 167h2v1h-2zM759 167h2v1h-2zM765 167h2v1h-2zM771 167h2v1h-2zM774 167h6v1h-6zM783 167h2v1h-2zM794 167h1v1h-1zM798 167h2v1h-2zM802 167h3v1h-3zM751 168h10v1h-10zM762 168h2v1h-2zM767 168h2v1h-2zM772 168h3v1h-3zM776 168h5v1h-5zM785 168h1v1h-1zM789 168h4v1h-4zM795 168h2v1h-2zM799 168h2v1h-2zM803 168h2v1h-2zM753 169h7v1h-7zM761 169h2v1h-2zM768 169h1v1h-1zM775 169h7v1h-7zM785 169h9v1h-9zM796 169h1v1h-1zM800 169h1v1h-1zM757 170h2v1h-2zM764 170h2v1h-2zM776 170h5v1h-5zM783 170h10v1h-10zM802 170h2v1h-2zM762 171h5v1h-5zM777 171h6v1h-6zM784 171h2v1h-2zM789 171h2v1h-2zM802 171h5v1h-5zM752 172h3v1h-3zM761 172h2v1h-2zM764 172h2v1h-2zM774 172h5v1h-5zM780 172h3v1h-3zM748 173h2v1h-2zM751 173h3v1h-3zM761 173h2v1h-2zM777 173h2v1h-2zM784 173h3v1h-3zM800 173h1v1h-1zM804 173h2v1h-2zM749 174h4v1h-4zM762 174h2v1h-2zM767 174h1v1h-1zM770 174h2v1h-2zM778 174h1v1h-1zM783 174h1v1h-1zM793 174h2v1h-2zM799 174h3v1h-3zM803 174h3v1h-3zM750 175h3v1h-3zM755 175h2v1h-2zM758 175h1v1h-1zM764 175h1v1h-1zM767 175h4v1h-4zM774 175h1v1h-1zM777 175h8v1h-8zM786 175h3v1h-3zM794 175h2v1h-2zM799 175h2v1h-2zM803 175h2v1h-2zM748 176h1v1h-1zM750 176h2v1h-2zM754 176h2v1h-2zM757 176h2v1h-2zM773 176h3v1h-3zM777 176h2v1h-2zM796 176h2v1h-2zM804 176h2v1h-2zM748 177h4v1h-4zM755 177h2v1h-2zM758 177h1v1h-1zM763 177h2v1h-2zM768 177h2v1h-2zM773 177h5v1h-5zM783 177h3v1h-3zM787 177h3v1h-3zM797 177h1v1h-1zM800 177h3v1h-3zM750 178h4v1h-4zM757 178h1v1h-1zM763 178h2v1h-2zM767 178h2v1h-2zM773 178h4v1h-4zM789 178h1v1h-1zM798 178h5v1h-5zM801 179h2v1h-2z"/></g><path d="M810 135.5 Q 802.6 164.5 810 193.6 Z" fill="#a0a1a4" stroke="#231f20" stroke-width="2"/><rect x="811.6" y="104.6" width="44" height="123.2" fill="none" stroke="#231f20" stroke-width="4.3"/><path d="M756.7 63.8 L832 131" stroke="#231f20" stroke-width="4"/><polygon points="843.4,139.3 821.1,135.3 831,130.5 835.4,117.9" fill="#231f20"/><path d="M753.6 237.9 L793 191.5" stroke="#231f20" stroke-width="4"/><polygon points="805.7,180 782.1,187.6 792.4,192 800.4,203.6" fill="#231f20"/><path d="M92 343 H112" stroke="#231f20" stroke-width="5.5" stroke-linecap="round"/><polygon points="124,343.2 109,335 109,351.4" fill="#231f20"/><text x="184.7" y="25.6" font-size="21" textLength="120.3" lengthAdjust="spacingAndGlyphs">Powder feeder</text><text x="701.2" y="57.6" font-size="21" textLength="79.6" lengthAdjust="spacingAndGlyphs">Substrate</text><text x="514.3" y="235.4" font-size="21" textLength="161" lengthAdjust="spacingAndGlyphs">Supersonic nozzzle</text><text x="722.5" y="255.9" font-size="21" textLength="65.7" lengthAdjust="spacingAndGlyphs">Coating</text><text x="1.6" y="325.7" font-size="21" textLength="117" lengthAdjust="spacingAndGlyphs">High-pressure</text><text x="19.5" y="357.7" font-size="21" textLength="28" lengthAdjust="spacingAndGlyphs">gas</text><text x="264.6" y="438.8" font-size="21" textLength="54.3" lengthAdjust="spacingAndGlyphs">Heater</text>
</svg></body></html>
